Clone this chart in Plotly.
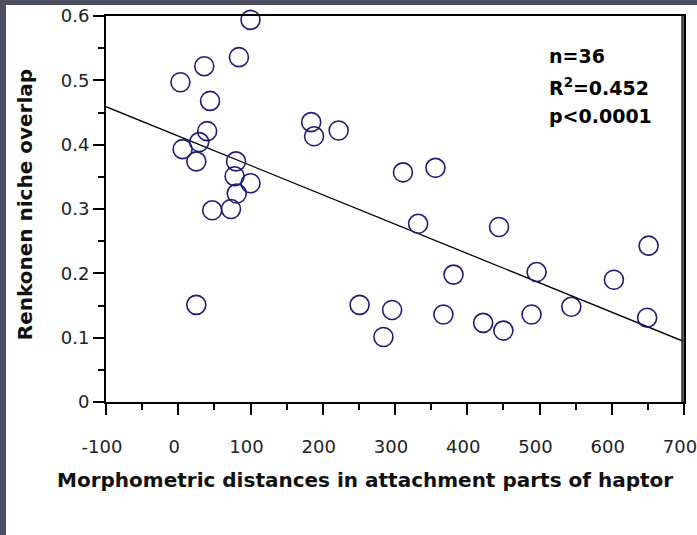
import plotly.graph_objects as go

# morphometric distance vs Renkonen niche overlap
x_dist = [100, 84, 36, 3, 44, 40, 29, 6, 25, 80, 78, 100, 81, 47, 73,
          184, 188, 222, 25, 311, 356, 332, 444, 651, 251, 296, 284,
          381, 496, 603, 367, 422, 450, 489, 544, 649]
y_overlap = [0.594, 0.536, 0.522, 0.497, 0.468, 0.421, 0.404, 0.393, 0.374,
             0.374, 0.351, 0.340, 0.324, 0.298, 0.300, 0.435, 0.413, 0.422,
             0.151, 0.357, 0.364, 0.277, 0.272, 0.243, 0.151, 0.143, 0.101,
             0.198, 0.202, 0.190, 0.136, 0.123, 0.111, 0.136, 0.148, 0.131]

# regression line ends
fit_x = [-100, 700]
fit_y = [0.459, 0.094]

x_ticks = [-100, 0, 100, 200, 300, 400, 500, 600, 700]
x_ticklabels = ["-100", "0", "100", "200", "300", "400", "500", "600", "700"]

stats_lines = ["n=36", "R<sup>2</sup>=0.452", "p<0.0001"]

font = "DejaVu Sans, Verdana, sans-serif"

fig = go.Figure()
fig.add_trace(go.Scatter(x=fit_x, y=fit_y, mode="lines",
                         line=dict(color="black", width=1.3),
                         hoverinfo="skip"))
fig.add_trace(go.Scatter(x=x_dist, y=y_overlap, mode="markers",
                         marker=dict(symbol="circle-open", size=19, color="#1c1c78",
                                     line=dict(color="#1c1c78", width=1.6)),
                         cliponaxis=False))

axis_common = dict(showline=True, linecolor="black", linewidth=2, mirror=True,
                   ticks="outside", ticklen=11, tickwidth=2, tickcolor="black",
                   showgrid=False, zeroline=False, ticklabeloverflow="allow",
                   automargin=False,
                   tickfont=dict(family=font, size=18, color="#222"))

fig.update_xaxes(range=[-100, 700], tickvals=x_ticks, ticktext=x_ticklabels,
                 minor=dict(dtick=50, ticklen=6, tickwidth=2, tickcolor="black", ticks="outside"),
                 ticklabelstandoff=16, ticklabelshift=-4, **axis_common)
fig.update_yaxes(range=[0, 0.6], dtick=0.1, tick0=0,
                 minor=dict(dtick=0.05, ticklen=6, tickwidth=2, tickcolor="black", ticks="outside"),
                 **axis_common)

ann = []
ann_y = [0.538, 0.489, 0.444]
for txt, yy in zip(stats_lines, ann_y):
    ann.append(dict(x=511, y=yy, xref="x", yref="y", text=txt, showarrow=False,
                    xanchor="left", yanchor="middle",
                    font=dict(family=font, size=19, color="black", weight="bold")))
ann.append(dict(x=0.448, y=-0.202, xref="paper", yref="paper", showarrow=False,
                text="<b>Morphometric distances in attachment parts of haptor</b>",
                xanchor="center", yanchor="middle",
                font=dict(family=font, size=20, color="#111")))
ann.append(dict(x=-0.14, y=0.51, xref="paper", yref="paper", showarrow=False,
                text="<b>Renkonen niche overlap</b>", textangle=-90,
                xanchor="center", yanchor="middle",
                font=dict(family=font, size=20, color="#111")))

# dark frame of the original screenshot, plus the right side of the plot box
shapes = [
    dict(type="rect", xref="paper", yref="paper", x0=-106 / 578, x1=-100 / 578,
         y0=-133 / 386, y1=(386 + 16) / 386, fillcolor="#4c4f62", line_width=0, layer="above"),
    dict(type="rect", xref="paper", yref="paper", x0=-106 / 578, x1=(578 + 13) / 578,
         y0=(386 + 11) / 386, y1=(386 + 16) / 386, fillcolor="#4c4f62", line_width=0, layer="above"),
    dict(type="line", xref="paper", yref="paper", x0=1 - 1.5 / 578, x1=1 - 1.5 / 578,
         y0=0, y1=1, line=dict(color="#333", width=2.5), layer="above"),
]

fig.update_layout(width=697, height=535, showlegend=False, autosize=False,
                  margin=dict(l=106, r=13, t=16, b=133, autoexpand=False),
                  paper_bgcolor="white", plot_bgcolor="white",
                  annotations=ann, shapes=shapes)

fig.write_html("out.html", config={"displayModeBar": False},
               post_script="document.body.style.margin='0';"
                           "document.body.style.overflow='hidden';"
                           "document.documentElement.style.overflow='hidden';")
